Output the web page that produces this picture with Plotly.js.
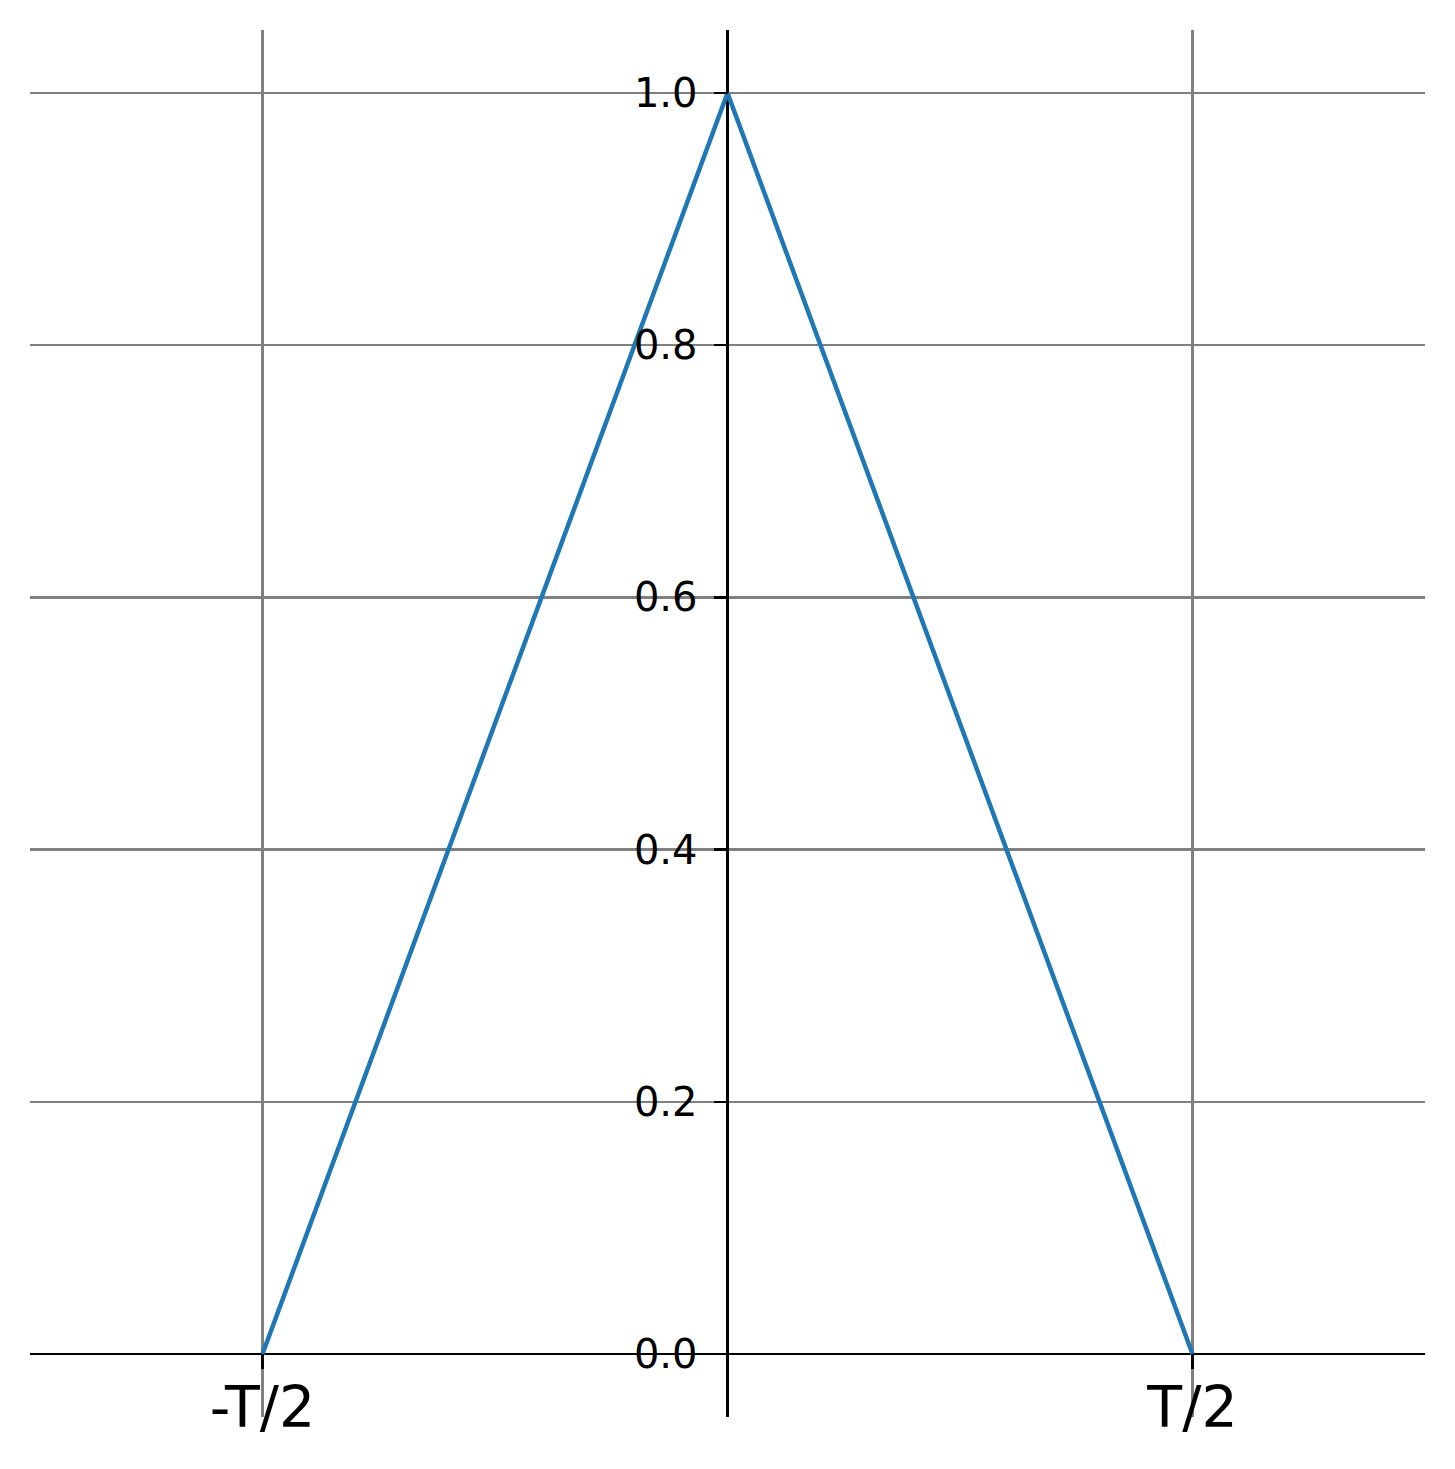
<!DOCTYPE html>
<html>
<head>
<meta charset="utf-8">
<script src="https://cdn.plot.ly/plotly-3.0.1.min.js"></script>
<style>
  html, body { margin: 0; padding: 0; background: #fff; }
  #chart { width: 1455px; height: 1469px; }
</style>
</head>
<body>
<div id="chart"></div>
<script>
// triangle pulse, one period
const pulseX = [-0.5, 0, 0.5];
const pulseY = [0, 1, 0];

const xTickVals = [-0.5, 0.5];
const xTickText = ["-T/2", "T/2"];
const yTickVals = [0, 0.2, 0.4, 0.6, 0.8, 1.0];
const yTickText = ["0.0", "0.2", "0.4", "0.6", "0.8", "1.0"];

const xRange = [-0.75, 0.75];
const yRange = [-0.05, 1.05];

const data = [
    {
        x: pulseX,
        y: pulseY,
        type: "scatter",
        mode: "lines",
        line: { color: "#1f77b4", width: 4.5 },
        hoverinfo: "skip"
    }
];

const layout = {
    width: 1455,
    height: 1469,
    margin: { l: 30, r: 30, t: 30, b: 52 },
    paper_bgcolor: "#fff",
    plot_bgcolor: "#fff",
    showlegend: false,
    font: { family: "DejaVu Sans", color: "#000" },
    xaxis: {
        range: xRange,
        tickvals: xTickVals,
        ticktext: xTickText,
        tickfont: { size: 57, color: "#000" },
        ticks: "outside",
        ticklen: 14,
        tickwidth: 2.5,
        tickcolor: "#000",
        ticklabelstandoff: -10,
        showgrid: true,
        gridcolor: "#808080",
        gridwidth: 2.5,
        zeroline: true,
        zerolinecolor: "#000",
        zerolinewidth: 2.5,
        showline: false,
        anchor: "free",
        position: (0 - yRange[0]) / (yRange[1] - yRange[0]),
        automargin: false,
        fixedrange: true
    },
    yaxis: {
        range: yRange,
        tickvals: yTickVals,
        ticktext: yTickText,
        tickfont: { size: 40, color: "#000" },
        ticks: "outside",
        ticklen: 14,
        tickwidth: 2.5,
        tickcolor: "#000",
        ticklabelstandoff: 8,
        showgrid: true,
        gridcolor: "#808080",
        gridwidth: 2.5,
        zeroline: true,
        zerolinecolor: "#000",
        zerolinewidth: 2.5,
        showline: false,
        anchor: "free",
        position: (0 - xRange[0]) / (xRange[1] - xRange[0]),
        automargin: false,
        fixedrange: true
    }
};

Plotly.newPlot("chart", data, layout, { displayModeBar: false, staticPlot: true });
</script>
</body>
</html>
